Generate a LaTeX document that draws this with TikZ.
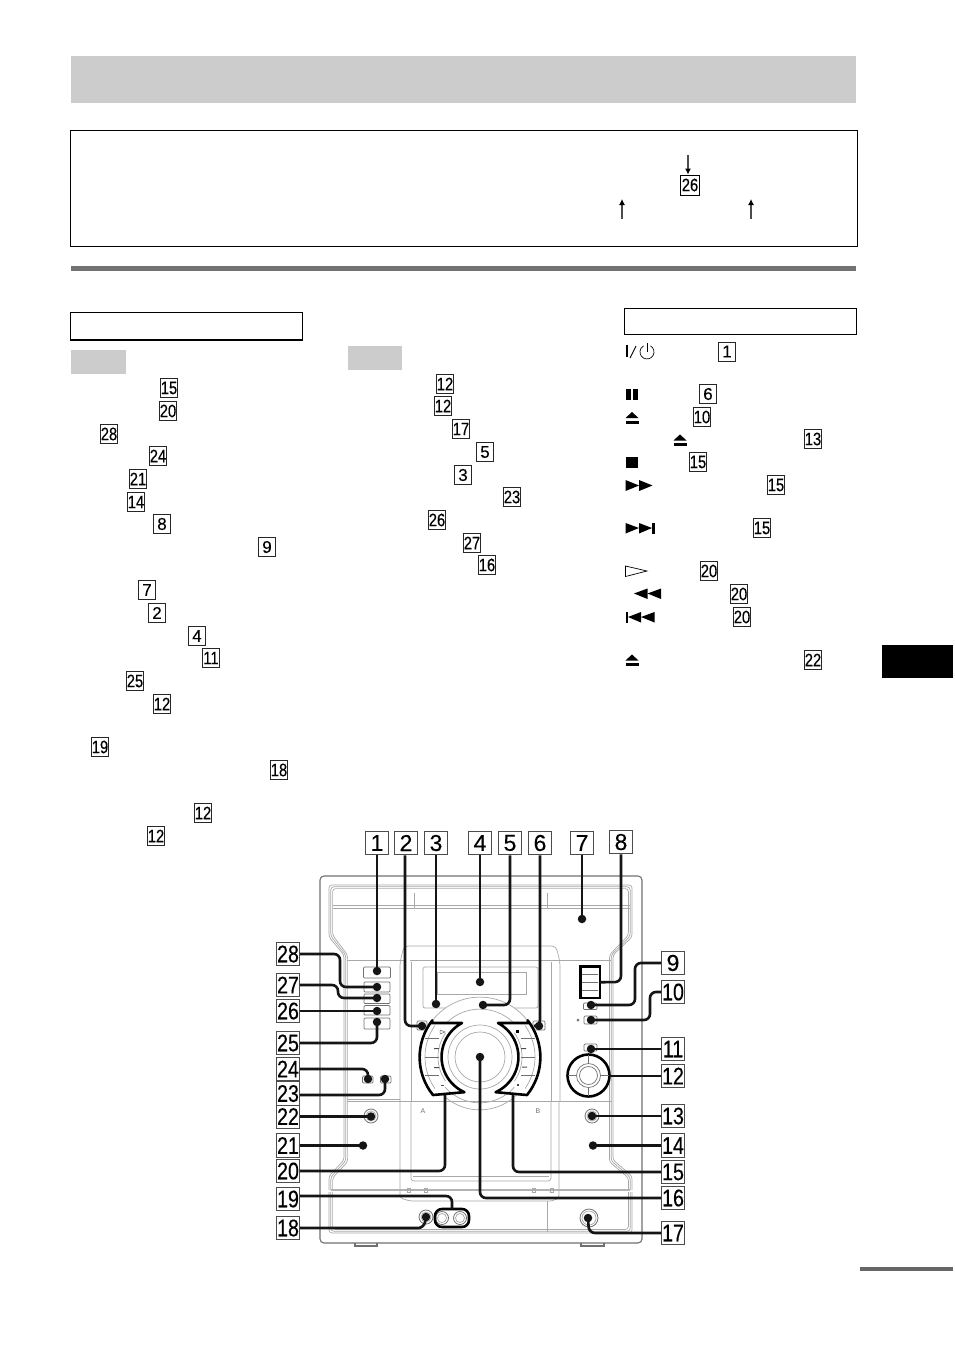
\documentclass[tikz,border=0pt]{standalone}
\usepackage{fontspec}
\setmainfont{Liberation Sans}
\newfontfamily\narrowfont[FakeStretch=0.82,FakeBold=0.25]{Liberation Sans}
\newfontfamily\plainfont[FakeBold=0.25]{Liberation Sans}
\usetikzlibrary{arrows.meta}
\definecolor{band}{HTML}{CCCCCC}
\definecolor{devline}{HTML}{A8A8A8}
\definecolor{devdark}{HTML}{707070}
\definecolor{leadink}{HTML}{151515}
\tikzset{
  bandfill/.style={fill=band,draw=none},
  framebox/.style={draw=black,line width=0.9pt,fill=none},
  smallbox/.style={draw=black!85,line width=0.9pt,fill=white,minimum width=17.5pt,minimum height=19pt,inner sep=0pt,font=\plainfont\fontsize{17}{17}\selectfont,text=black},
  smallwide/.style={smallbox,font=\narrowfont\fontsize{18}{17}\selectfont},
  bigbox/.style={draw=black!70,line width=1.2pt,fill=white,minimum width=22.5pt,minimum height=23.5pt,inner sep=0pt,font=\plainfont\fontsize{23}{24}\selectfont,text=black},
  bigwide/.style={bigbox,font=\narrowfont\fontsize{24}{24}\selectfont},
  leaddot/.style={circle,fill=leadink,minimum size=8.5pt,inner sep=0pt},
  leadline/.style={draw=leadink,line width=2.6pt,rounded corners=6pt},
  devthin/.style={draw=devline,line width=0.7pt},
  devbody/.style={draw=devdark,line width=1.1pt},
  devbtn/.style={draw=devdark,line width=0.7pt,rounded corners=1pt,fill=white},
  bracket/.style={draw=black,line width=2.6pt,line join=round},
  ptr/.style={draw=black!70,line width=1.1pt,-{Latex[length=6pt,width=6pt,black]}},
  tinylabel/.style={font=\fontsize{7}{7}\selectfont,text=black!55,inner sep=0pt},
}
\newcommand{\numbox}[4][smallbox]{\node[#1] (#2) at (#3) {#4};}
\newcommand{\ejectsym}[2]{\fill[black] (#1,#2+6) -- (#1+13,#2+6) -- (#1+6.5,#2) -- cycle; \fill[black] (#1,#2+8.5) rectangle (#1+13,#2+11.5);}
\begin{document}
\begin{tikzpicture}[x=1pt,y=-1pt]
\useasboundingbox (0,0) rectangle (954,1352);
% page furniture
\path[bandfill] (71,56) rectangle (856,103);
\draw[framebox] (70.5,130.5) rectangle (857.5,246.5);
\fill[black!55] (71,266) rectangle (856,270.5);
\draw[framebox] (70.5,312.5) rectangle (302.5,339);
\fill[black] (70,338.5) rectangle (303,340.5);
\draw[framebox] (624.5,308.5) rectangle (856.5,334);
\path[bandfill] (71,350) rectangle (126,374);
\path[bandfill] (348,346) rectangle (402,370);
\fill[black] (882,645) rectangle (953,678);
\fill[black!60] (860,1267) rectangle (953,1271);
% header arrows
\node[smallwide,draw=black,minimum width=19pt,minimum height=20pt] (top26) at (690,185) {26};
\coordinate (arrtop) at (688,155);
\draw[ptr] (arrtop) -- (top26.north -| arrtop);
\coordinate (arrA0) at (622,219); \coordinate (arrA1) at (622,199);
\coordinate (arrB0) at (751,219); \coordinate (arrB1) at (751,199);
\draw[ptr] (arrA0) -- (arrA1);
\draw[ptr] (arrB0) -- (arrB1);
% left column
\numbox[smallwide]{a1}{169,388}{15}
\numbox[smallwide]{a2}{168,411}{20}
\numbox[smallwide]{a3}{109,434}{28}
\numbox[smallwide]{a4}{158,456}{24}
\numbox[smallwide]{a5}{138,479}{21}
\numbox[smallwide]{a6}{136,502}{14}
\numbox{a7}{162,524}{8}
\numbox{a8}{267,547}{9}
\numbox{a9}{147,590}{7}
\numbox{a10}{157,613}{2}
\numbox{a11}{197,636}{4}
\numbox[smallwide]{a12}{211,658}{11}
\numbox[smallwide]{a13}{135,681}{25}
\numbox[smallwide]{a14}{162,704}{12}
\numbox[smallwide]{a15}{100,747}{19}
\numbox[smallwide]{a16}{279,770}{18}
\numbox[smallwide]{a17}{203,813}{12}
\numbox[smallwide]{a18}{156,836}{12}
% middle column
\numbox[smallwide]{b1}{445,384}{12}
\numbox[smallwide]{b2}{443,406}{12}
\numbox[smallwide]{b3}{461,429}{17}
\numbox{b4}{485,452}{5}
\numbox{b5}{463,475}{3}
\numbox[smallwide]{b6}{512,497}{23}
\numbox[smallwide]{b7}{437,520}{26}
\numbox[smallwide]{b8}{472,543}{27}
\numbox[smallwide]{b9}{487,565}{16}
% right column
\numbox{c1}{727,351.5}{1}
\numbox{c2}{708,394}{6}
\numbox[smallwide]{c3}{702,417}{10}
\numbox[smallwide]{c4}{813,439}{13}
\numbox[smallwide]{c5}{698,462}{15}
\numbox[smallwide]{c6}{776,485}{15}
\numbox[smallwide]{c7}{762,528}{15}
\numbox[smallwide]{c8}{709,571}{20}
\numbox[smallwide]{c9}{739,594}{20}
\numbox[smallwide]{c10}{742,617}{20}
\numbox[smallwide]{c11}{813,660}{22}
% symbols
\fill[black] (625.5,345) rectangle (628,357);
\draw[black,line width=0.9pt] (630,358) -- (636,346);
\draw[black,line width=0.7pt] (650.5,345.9) arc[start angle=-60,end angle=240,radius=7];
\draw[black,line width=0.7pt] (647,343) -- (647,352);
\fill[black] (625.5,389) rectangle (630.5,400);
\fill[black] (633,389) rectangle (638,400);
\ejectsym{625.5}{412}
\ejectsym{673.5}{434.5}
\fill[black] (625.5,457) rectangle (638,468);
\fill[black] (625.5,480) -- (625.5,491) -- (639,485.5) -- cycle;
\fill[black] (639,480) -- (639,491) -- (652.5,485.5) -- cycle;
\fill[black] (625.5,523) -- (625.5,533.5) -- (639,528) -- cycle;
\fill[black] (639,523) -- (639,533.5) -- (652,528) -- cycle;
\fill[black] (652,523) rectangle (654.5,533.5);
\draw[black,line width=0.7pt] (625.5,566) -- (625.5,576.5) -- (647,571) -- cycle;
\fill[black] (661,588.5) -- (661,599) -- (647.5,593.5) -- cycle;
\fill[black] (647.5,588.5) -- (647.5,599) -- (634,593.5) -- cycle;
\fill[black] (625.5,612) rectangle (628,622.5);
\fill[black] (654.5,612) -- (654.5,622.5) -- (641,617) -- cycle;
\fill[black] (641,612) -- (641,622.5) -- (628,617) -- cycle;
\ejectsym{625.5}{654.5}
% device body
\draw[devbody,rounded corners=4pt] (320,876) rectangle (642,1243);
\draw[devbody] (355,1243) -- (355,1246) -- (377,1246) -- (377,1243);
\draw[devbody] (581,1243) -- (581,1246) -- (604,1246) -- (604,1243);
\foreach \o in {0,1.8,3.6}{
 \draw[devthin,rounded corners=3pt] (329+\o,1190) -- (329+\o,1176+\o*0.5) -- (344+\o,1160+\o*0.5) -- (344+\o,962) -- (344+\o,955) -- (329+\o,937-\o*0.5) -- (329+\o,885+\o) -- (632-\o,885+\o) -- (632-\o,937-\o*0.5) -- (613-\o,955) -- (613-\o,1160+\o*0.5) -- (632-\o,1176+\o*0.5) -- (632-\o,1190);
 \draw[devthin,rounded corners=3pt] (329+\o,1192) -- (329+\o,1233-\o) -- (632-\o,1233-\o) -- (632-\o,1192);
}
\draw[devthin] (333,905) -- (630,905);
\draw[devthin] (333,908) -- (630,908);
\draw[devthin] (414,893) -- (414,908);
\draw[devthin] (547,893) -- (547,908);
\draw[devthin] (347,960) -- (404,960);
\draw[devthin] (550,960) -- (611,960);
\draw[devthin,rounded corners=4pt] (400,1101) -- (400,962) -- (404,946) -- (556,946) -- (560,962) -- (560,1101);
\draw[devthin] (410,960) -- (551,960);
\draw[devthin] (411,962) -- (411,1101);
\draw[devthin] (551,962) -- (551,1101);
\draw[devthin] (347,1101) -- (612,1101);
\draw[devthin] (347,1099) -- (400,1099);
\draw[devthin,rounded corners=3pt] (400,1101) -- (400,1198) -- (410,1201) -- (552,1201) -- (559,1198) -- (559,1101);
\draw[devthin,rounded corners=3pt] (411,1101) -- (411,1181) -- (551,1181) -- (551,1101);
\draw[devthin] (413,1176) -- (549,1176);
\draw[black!30,line width=2pt] (331,1190) -- (630,1190);
\draw[devthin] (547,1201) -- (547,1232);
\foreach \x in {409,426,534,552}{\draw[devthin] (\x-1.5,1188) rectangle (\x+1.5,1192);}
% display
\draw[devthin,rounded corners=2pt,fill=white] (423,967) rectangle (538,1008);
\draw[devthin] (437,972) rectangle (526,994);
% buttons
\draw[devbtn] (363.5,967) rectangle (390.5,978);
\draw[devbtn] (364,982) rectangle (390,992);
\draw[devbtn] (364,994) rectangle (390,1003.5);
\draw[devbtn] (364,1005.5) rectangle (390,1015);
\draw[devbtn] (364,1018) rectangle (390,1029);
\draw[devbtn] (533,1021) rectangle (545,1030);
\draw[devbtn] (417,1021) rectangle (427,1030);
\draw[devbtn] (583.5,1003) rectangle (597,1009.5);
\draw[devbtn] (584,1016) rectangle (597,1024);
\fill[devdark] (578,1020) circle[radius=1.5];
\draw[devbtn] (584,1044) rectangle (597,1051);
\draw[devbtn] (362.5,1076) rectangle (373,1083);
\draw[devbtn] (380.5,1076) rectangle (391,1083);
% tape counter block
\draw[devdark,line width=0.7pt] (582,974) -- (598,974) (582,982) -- (598,982) (582,990) -- (598,990);
\draw[draw=black,line width=2.6pt] (580.5,966.5) rectangle (600,998);
\node[inner sep=0pt,minimum width=19.5pt,minimum height=31.5pt] (e8) at (590.25,982.25) {};
% jacks
\foreach \x/\y/\r in {371/1116/7,592/1116/7,589/1218/9,426/1217/7,442/1218/6.5,460/1218/6.5}{
 \draw[devdark,line width=0.8pt,fill=white] (\x,\y) circle[radius=\r];
 \draw[devline,line width=0.7pt] (\x,\y) circle[radius=\r-2];
}
% centre dial
\path[fill=white] (432,1021) arc[start angle=217,end angle=323,radius=60] -- cycle;
\draw[devthin] (432,1021) arc[start angle=217,end angle=323,radius=60];
\draw[devthin] (480,1057) circle[radius=25];
\draw[devthin] (480,1057) circle[radius=32];
\draw[devthin] (512.8,1022) arc[start angle=-47,end angle=-133,radius=48];
\draw[devthin] (445,1087) arc[start angle=139,end angle=41,radius=46];
\draw[devthin] (441,1093) arc[start angle=137,end angle=43,radius=53];
\draw[devthin] (480-55,1057) arc[start angle=180,end angle=215,radius=55];
\draw[devthin] (480-55,1057) arc[start angle=180,end angle=145,radius=55];
\draw[devthin] (480+55,1057) arc[start angle=0,end angle=35,radius=55];
\draw[devthin] (480+55,1057) arc[start angle=0,end angle=-35,radius=55];
\draw[devthin] (480-42,1057) arc[start angle=180,end angle=215,radius=42];
\draw[devthin] (480-42,1057) arc[start angle=180,end angle=145,radius=42];
\draw[devthin] (480+42,1057) arc[start angle=0,end angle=35,radius=42];
\draw[devthin] (480+42,1057) arc[start angle=0,end angle=-35,radius=42];
\foreach \y in {1038,1057,1075}{
 \draw[devdark,line width=0.6pt] (425,\y) -- (439,\y);
 \draw[devdark,line width=0.6pt] (521,\y) -- (535,\y);
}
\draw[bracket] (431.5,1023) -- (462,1023) arc[start angle=242,end angle=114,radius=38.5] -- (433,1095) arc[start angle=141,end angle=218,radius=60] -- cycle;
\draw[bracket] (528.5,1023) -- (498,1023) arc[start angle=-62,end angle=66,radius=38.5] -- (527,1095) arc[start angle=39,end angle=-38,radius=60] -- cycle;
\node[inner sep=0pt,minimum size=1pt] (brA) at (445,1095) {};
\node[inner sep=0pt,minimum size=1pt] (brB) at (513,1095) {};
% tiny button glyphs
\draw[devdark,line width=0.5pt] (440,1030) -- (440,1034) -- (445,1032) -- cycle;
\fill[black!70] (434,1048) rectangle (439,1049) (434,1067) rectangle (439,1068);
\fill[black!70] (441,1084.5) rectangle (444,1085.5);
\fill[black] (516,1030) rectangle (518.5,1032.5);
\fill[black!70] (521,1048) rectangle (526,1049) (522,1066.5) rectangle (527,1067.5);
\fill[black!70] (516.5,1084) rectangle (519,1085.5);
% jog ring right
\draw[black,line width=2.6pt] (588.5,1075.5) circle[radius=21];
\node[circle,inner sep=0pt,minimum size=42pt] (ring) at (588.5,1075.5) {};
\draw[devdark,line width=0.7pt] (588.5,1075.5) circle[radius=12];
\draw[devdark,line width=0.7pt] (588.5,1075.5) circle[radius=9];
\draw[devdark,line width=0.7pt] (588.5,1055) -- (588.5,1063) (588.5,1088) -- (588.5,1096) (568,1075.5) -- (576,1075.5) (601,1075.5) -- (609,1075.5);
% socket rail
\draw[black,line width=2.6pt,rounded corners=7pt] (435,1209) rectangle (469,1227);
\node[inner sep=0pt,minimum width=34pt,minimum height=18pt] (rail) at (452,1218) {};
\node[tinylabel] (letA) at (423,1111) {A};
\node[tinylabel] (letB) at (538,1111) {B};
% callout boxes
\node[bigbox] (n1) at (377,843) {1};
\node[bigbox] (n2) at (406,843) {2};
\node[bigbox] (n3) at (436,843) {3};
\node[bigbox] (n4) at (480,843) {4};
\node[bigbox] (n5) at (510,843) {5};
\node[bigbox] (n6) at (540,843) {6};
\node[bigbox] (n7) at (582,843) {7};
\node[bigbox] (n8) at (621,842) {8};
\node[bigbox] (n9) at (673,963) {9};
\node[bigwide] (n10) at (673,992) {10};
\node[bigwide] (n11) at (673,1049) {11};
\node[bigwide] (n12) at (673,1076) {12};
\node[bigwide] (n13) at (673,1116) {13};
\node[bigwide] (n14) at (673,1145.5) {14};
\node[bigwide] (n15) at (673,1172) {15};
\node[bigwide] (n16) at (673,1198) {16};
\node[bigwide] (n17) at (673,1233) {17};
\node[bigwide] (n18) at (288,1228) {18};
\node[bigwide] (n19) at (288,1199) {19};
\node[bigwide] (n20) at (288,1171) {20};
\node[bigwide] (n21) at (288,1145.5) {21};
\node[bigwide] (n22) at (288,1116.5) {22};
\node[bigwide] (n23) at (288,1093.5) {23};
\node[bigwide] (n24) at (288,1069) {24};
\node[bigwide] (n25) at (288,1043) {25};
\node[bigwide] (n26) at (288,1011) {26};
\node[bigwide] (n27) at (288,985) {27};
\node[bigwide] (n28) at (288,954) {28};
% dots
\node[leaddot] (d1) at (377,971) {};
\node[leaddot] (d2) at (422,1026) {};
\node[leaddot] (d3) at (436,1004) {};
\node[leaddot] (d4) at (480,982) {};
\node[leaddot] (d5) at (483,1005) {};
\node[leaddot] (d6) at (539,1026) {};
\node[leaddot] (d7) at (582,919) {};
\node[leaddot] (d9) at (591,1005) {};
\node[leaddot] (d10) at (591,1020) {};
\node[leaddot] (d11) at (591,1049) {};
\node[leaddot] (d13) at (592,1116) {};
\node[leaddot] (d14) at (593,1145.5) {};
\node[leaddot] (d16) at (480,1057) {};
\node[leaddot] (d17) at (588,1218) {};
\node[leaddot] (d18) at (426,1217) {};
\node[leaddot] (d21) at (363,1145.5) {};
\node[leaddot] (d22) at (371,1116.5) {};
\node[leaddot] (d23) at (385,1079) {};
\node[leaddot] (d24) at (368,1079) {};
\node[leaddot] (d25) at (377,1022) {};
\node[leaddot] (d26) at (377,1011) {};
\node[leaddot] (d27) at (377,998) {};
\node[leaddot] (d28) at (377,987) {};
% leaders
\draw[leadline] (n1.south) -- (d1.center);
\draw[leadline] ([xshift=-1pt]n2.south) -- (405,1026) -- (d2.center);
\draw[leadline] (n3.south) -- (d3.center);
\draw[leadline] (n4.south) -- (d4.center);
\draw[leadline] (n5.south) -- (510,1005) -- (d5.center);
\draw[leadline] (n6.south) -- (540,1026) -- (d6.center);
\draw[leadline] (n7.south) -- (d7.center);
\draw[leadline] (n8.south) -- (621,982) -- (e8.east);
\draw[leadline] (n9.west) -- (635,963) -- (635,1005) -- (d9.center);
\draw[leadline] (n10.west) -- (650,992) -- (650,1020) -- (d10.center);
\draw[leadline] (n11.west) -- (d11.center);
\draw[leadline] (n12.west) -- (n12.west -| ring.east);
\draw[leadline] (n13.west) -- (d13.center);
\draw[leadline] (n14.west) -- (d14.center);
\draw[leadline] (n15.west) -- (513,1172) -- (brB.center);
\draw[leadline] (n16.west) -- (480,1198) -- (d16.center);
\draw[leadline] (n17.west) -- (589,1233) -- (d17.center);
\draw[leadline] (n18.east) -- (424,1228) -- (d18.center);
\draw[leadline] ([yshift=3pt]n19.east) -- (452,1196) -- (rail.north);
\draw[leadline] (n20.east) -- (445,1171) -- (brA.center);
\draw[leadline] (n21.east) -- (d21.center);
\draw[leadline] (n22.east) -- (d22.center);
\draw[leadline] ([yshift=-1.5pt]n23.east) -- (385,1095) -- (d23.center);
\draw[leadline] (n24.east) -- (368,1069) -- (d24.center);
\draw[leadline] (n25.east) -- (377,1043) -- (d25.center);
\draw[leadline] (n26.east) -- (d26.center);
\draw[leadline] (n27.east) -- (338,985) -- (338,998) -- (d27.center);
\draw[leadline] (n28.east) -- (340,954) -- (340,987) -- (d28.center);
\end{tikzpicture}
\end{document}
